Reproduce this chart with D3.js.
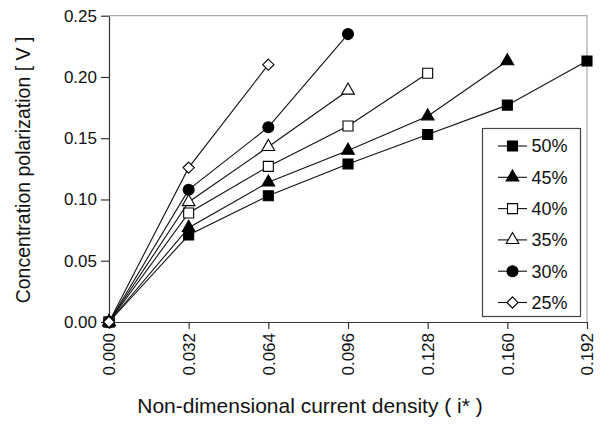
<!DOCTYPE html>
<html>
<head>
<meta charset="utf-8">
<script src="https://cdn.jsdelivr.net/npm/d3@7"></script>
<style>
  body { margin: 0; background: #fff; }
  text { font-family: Arial, "Liberation Sans", sans-serif; fill: #111; }
</style>
</head>
<body>
<div id="chart"></div>
<script>
const xValues = [0, 0.032, 0.064, 0.096, 0.128, 0.160, 0.192];
const xTicks = [0, 0.032, 0.064, 0.096, 0.128, 0.160, 0.192];
const yTicks = [0, 0.05, 0.10, 0.15, 0.20, 0.25];

const seriesNames = ["50%", "45%", "40%", "35%", "30%", "25%"];
const v50 = [0, 0.071, 0.103, 0.129, 0.153, 0.177, 0.213];
const v45 = [0, 0.077, 0.114, 0.140, 0.168, 0.213];
const v40 = [0, 0.089, 0.127, 0.160, 0.203];
const v35 = [0, 0.098, 0.143, 0.189];
const v30 = [0, 0.108, 0.159, 0.235];
const v25 = [0, 0.126, 0.210];

const series = [
  { name: seriesNames[0], values: v50, symbol: d3.symbolSquare, fill: "#000" },
  { name: seriesNames[1], values: v45, symbol: d3.symbolTriangle, fill: "#000" },
  { name: seriesNames[2], values: v40, symbol: d3.symbolSquare, fill: "#fff" },
  { name: seriesNames[3], values: v35, symbol: d3.symbolTriangle, fill: "#fff" },
  { name: seriesNames[4], values: v30, symbol: d3.symbolCircle, fill: "#000" },
  { name: seriesNames[5], values: v25, symbol: d3.symbolDiamond2, fill: "#fff" }
];

const W = 606, H = 435;
const mLeft = 109, mRight = 587, mTop = 15.7, mBottom = 322;

const svg = d3.select("#chart").append("svg")
  .attr("width", W).attr("height", H);

const x = d3.scaleLinear().domain([0, 0.192]).range([mLeft, mRight]);
const y = d3.scaleLinear().domain([0, 0.25]).range([mBottom, mTop]);

// light frame on top and right
svg.append("path")
  .attr("d", `M${mLeft},${mTop}H${mRight}V${mBottom}`)
  .attr("fill", "none")
  .attr("stroke", "#aaa")
  .attr("stroke-width", 1.2);

const xAxis = svg.append("g")
  .attr("transform", `translate(0,${mBottom})`)
  .call(d3.axisBottom(x).tickValues(xTicks).tickFormat(d3.format(".3f")).tickSize(7).tickSizeOuter(0));
xAxis.selectAll("text")
  .attr("transform", "rotate(-90)")
  .attr("x", -11).attr("y", 0).attr("dy", "0.35em")
  .style("text-anchor", "end")
  .style("font-size", "17px");

const yAxis = svg.append("g")
  .attr("transform", `translate(${mLeft},0)`)
  .call(d3.axisLeft(y).tickValues(yTicks).tickFormat(d3.format(".2f")).tickSize(8).tickSizeOuter(0));
yAxis.selectAll("text").style("font-size", "17px").attr("x", -12);

svg.selectAll(".domain, .tick line").attr("stroke", "#333").attr("stroke-width", 1.2);

// axis titles
svg.append("text")
  .attr("x", 310).attr("y", 413)
  .attr("text-anchor", "middle")
  .style("font-size", "21px")
  .text("Non-dimensional current density ( i* )");

svg.append("text")
  .attr("transform", `translate(30,170) rotate(-90)`)
  .attr("text-anchor", "middle")
  .style("font-size", "19.5px")
  .text("Concentration polarization [ V ]");

const line = d3.line()
  .x((d, i) => x(xValues[i]))
  .y(d => y(d));

function sym(s) {
  let size = 100;
  if (s === d3.symbolCircle) size = 95;
  if (s === d3.symbolTriangle) size = 70;
  if (s === d3.symbolDiamond2) size = 80;
  return d3.symbol().type(s).size(size)();
}

const groups = svg.selectAll(".series")
  .data(series)
  .enter().append("g")
  .attr("class", "series");

groups.append("path")
  .attr("d", d => line(d.values))
  .attr("fill", "none")
  .attr("stroke", "#111")
  .attr("stroke-width", 1.1);

groups.each(function(s) {
  d3.select(this).selectAll(".pt")
    .data(s.values)
    .enter().append("path")
    .attr("class", "pt")
    .attr("transform", (d, i) => `translate(${x(xValues[i])},${y(d)})`)
    .attr("d", sym(s.symbol))
    .attr("fill", s.fill)
    .attr("stroke", "#000")
    .attr("stroke-width", 1.1);
});

// legend
const lg = svg.append("g");
lg.append("rect")
  .attr("x", 482.5).attr("y", 128.5)
  .attr("width", 98).attr("height", 188)
  .attr("fill", "#fff")
  .attr("stroke", "#444")
  .attr("stroke-width", 1.2);

const items = lg.selectAll(".item")
  .data(series)
  .enter().append("g")
  .attr("class", "item")
  .attr("transform", (d, i) => `translate(0,${146 + i * 31.3})`);

items.append("line")
  .attr("x1", 498).attr("x2", 527)
  .attr("stroke", "#111").attr("stroke-width", 1.1);

items.append("path")
  .attr("transform", "translate(512.5,0)")
  .attr("d", d => sym(d.symbol))
  .attr("fill", d => d.fill)
  .attr("stroke", "#000")
  .attr("stroke-width", 1.1);

items.append("text")
  .attr("x", 531.5).attr("dy", "0.36em")
  .style("font-size", "18px")
  .text(d => d.name);
</script>
</body>
</html>
